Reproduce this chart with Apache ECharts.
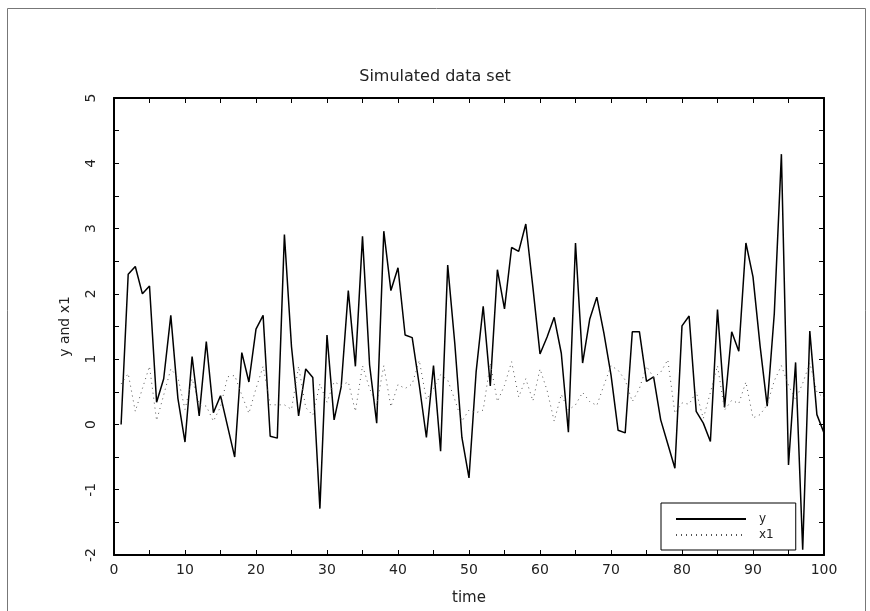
<!DOCTYPE html>
<html>
<head>
    <meta charset="utf-8">
    <title>Simulated data set</title>
    <style>
        html, body { margin: 0; padding: 0; background: #fff; }
        #chart { width: 870px; height: 611px; }
    </style>
</head>
<body>
    <div id="chart"></div>
    <script src="https://cdn.jsdelivr.net/npm/echarts@6/dist/echarts.min.js"></script>
    <script>
        // readings, t = 1..100
        var yValues = [
            0.00, 2.30, 2.42, 2.00, 2.12, 0.34, 0.70, 1.67, 0.40, -0.27,
            1.04, 0.13, 1.27, 0.18, 0.44, -0.03, -0.50, 1.10, 0.65, 1.46,
            1.67, -0.18, -0.21, 2.91, 1.19, 0.13, 0.85, 0.72, -1.29, 1.37,
            0.07, 0.58, 2.05, 0.89, 2.88, 0.91, 0.02, 2.96, 2.05, 2.40,
            1.37, 1.33, 0.60, -0.20, 0.90, -0.41, 2.44, 1.24, -0.20, -0.82,
            0.80, 1.81, 0.59, 2.37, 1.77, 2.71, 2.65, 3.07, 2.10, 1.08,
            1.34, 1.64, 1.09, -0.12, 2.78, 0.94, 1.61, 1.95, 1.40, 0.76,
            -0.09, -0.13, 1.42, 1.42, 0.66, 0.73, 0.07, -0.30, -0.67, 1.51,
            1.66, 0.20, 0.02, -0.26, 1.76, 0.26, 1.42, 1.12, 2.78, 2.26,
            1.20, 0.28, 1.70, 4.14, -0.62, 0.95, -1.92, 1.43, 0.15, -0.13
        ];
        var x1Values = [
            0.62, 0.78, 0.20, 0.55, 0.89, 0.06, 0.45, 0.85, 0.72, 0.23,
            0.70, 0.30, 0.28, 0.05, 0.27, 0.73, 0.75, 0.45, 0.17, 0.55,
            0.89, 0.30, 0.30, 0.30, 0.23, 0.89, 0.26, 0.14, 0.62, 0.34,
            0.65, 0.60, 0.65, 0.20, 0.90, 0.55, 0.30, 0.90, 0.27, 0.61,
            0.55, 0.62, 0.98, 0.38, 0.55, 0.76, 0.68, 0.38, 0.05, 0.22,
            0.18, 0.22, 0.94, 0.35, 0.60, 0.96, 0.42, 0.70, 0.36, 0.85,
            0.52, 0.05, 0.46, 0.22, 0.30, 0.49, 0.35, 0.29, 0.60, 0.90,
            0.83, 0.68, 0.35, 0.55, 0.89, 0.72, 0.80, 0.99, 0.17, 0.33,
            0.31, 0.50, 0.09, 0.49, 0.90, 0.22, 0.37, 0.32, 0.65, 0.10,
            0.15, 0.30, 0.67, 0.90, 0.60, 0.38, 0.63, 0.94, 0.50, 0.40
        ];
        var seriesNames = ['y', 'x1'];
        var chartTitle = 'Simulated data set';
        var xName = 'time';
        var yName = 'y and x1';

        function pairs(values) {
            var out = [];
            for (var i = 0; i < values.length; i++) {
                out.push([i + 1, values[i]]);
            }
            return out;
        }

        var font = 'DejaVu Sans';
        var tickStyle = { show: true, inside: true, length: 5, lineStyle: { color: '#000', width: 1 } };
        var minorTickStyle = { show: true, splitNumber: 2, length: 5, lineStyle: { color: '#000', width: 1 } };
        var frameLine = { show: true, onZero: false, lineStyle: { color: '#000', width: 2 } };

        var chart = echarts.init(document.getElementById('chart'), null, { renderer: 'canvas' });
        var option = {
            animation: false,
            backgroundColor: '#fff',
            title: {
                text: chartTitle,
                left: 'center',
                top: 64,
                textStyle: { fontFamily: font, fontSize: 16, fontWeight: 'normal', color: '#222' }
            },
            graphic: [{
                type: 'rect',
                shape: { x: 7.5, y: 8.5, width: 858, height: 610 },
                style: { fill: null, stroke: '#777', lineWidth: 1 },
                silent: true
            }],
            grid: { left: 114, right: 46, top: 98, bottom: 50 },
            legend: {
                orient: 'vertical',
                left: 661,
                top: 503,
                padding: [10, 22, 9, 14],
                itemWidth: 70,
                itemHeight: 10,
                itemGap: 4,
                borderColor: '#000',
                borderWidth: 1,
                borderRadius: 0,
                data: seriesNames,
                itemStyle: { opacity: 0 },
                textStyle: { fontFamily: font, fontSize: 12, color: '#222', padding: [0, 0, 0, 8] }
            },
            xAxis: [{
                type: 'value',
                min: 0, max: 100, interval: 10,
                name: xName,
                nameLocation: 'middle',
                nameGap: 36,
                nameTextStyle: { fontFamily: font, fontSize: 15, color: '#222' },
                axisLine: frameLine,
                axisTick: tickStyle,
                minorTick: minorTickStyle,
                axisLabel: { fontFamily: font, fontSize: 14, color: '#222', margin: 8 },
                splitLine: { show: false }
            }, {
                type: 'value',
                position: 'top',
                min: 0, max: 100, interval: 10,
                axisLine: frameLine,
                axisTick: tickStyle,
                minorTick: minorTickStyle,
                axisLabel: { show: false },
                splitLine: { show: false }
            }],
            yAxis: [{
                type: 'value',
                min: -2, max: 5, interval: 1,
                name: yName,
                nameLocation: 'middle',
                nameGap: 42,
                nameRotate: 90,
                nameTextStyle: { fontFamily: font, fontSize: 14, color: '#222' },
                axisLine: frameLine,
                axisTick: tickStyle,
                minorTick: minorTickStyle,
                axisLabel: { fontFamily: font, fontSize: 14, color: '#222', rotate: 90, margin: 16 },
                splitLine: { show: false }
            }, {
                type: 'value',
                position: 'right',
                min: -2, max: 5, interval: 1,
                axisLine: frameLine,
                axisTick: tickStyle,
                minorTick: minorTickStyle,
                axisLabel: { show: false },
                splitLine: { show: false }
            }],
            series: [{
                name: seriesNames[0],
                type: 'line',
                data: pairs(yValues),
                symbol: 'none',
                lineStyle: { color: '#000', width: 1.5, type: 'solid' },
                itemStyle: { color: '#000' }
            }, {
                name: seriesNames[1],
                type: 'line',
                data: pairs(x1Values),
                symbol: 'none',
                lineStyle: { color: '#555', width: 1, type: [1, 4] },
                itemStyle: { color: '#555' }
            }]
        };
        chart.setOption(option);
    </script>
</body>
</html>
